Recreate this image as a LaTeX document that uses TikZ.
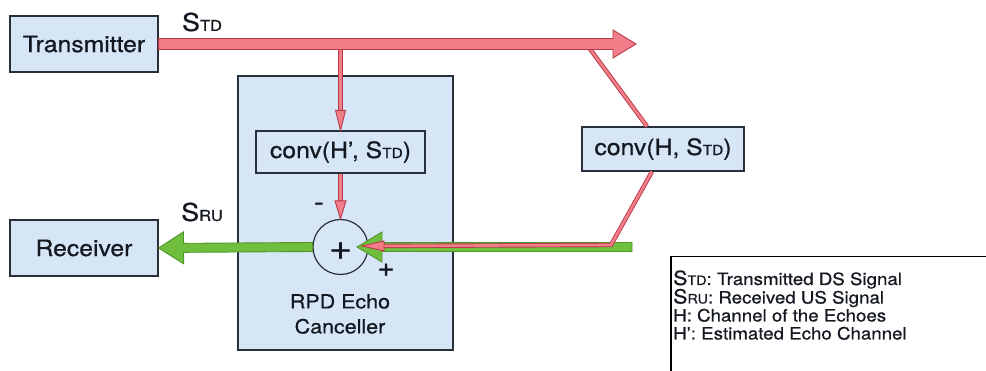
\documentclass[tikz,border=0pt]{standalone}
\usepackage{fontspec}
\setmainfont{TeX Gyre Heros}[FakeStretch=1.1, FakeBold=0.7]
\usetikzlibrary{calc}

\definecolor{boxfill}{RGB}{214,230,246}
\definecolor{boxline}{RGB}{40,48,60}
\definecolor{sigred}{RGB}{242,126,138}
\definecolor{sigredline}{RGB}{184,58,72}
\definecolor{siggreen}{RGB}{112,190,62}
\definecolor{siggreenline}{RGB}{80,150,42}
\definecolor{ink}{RGB}{20,24,32}

% S with a small-capital subscript: size of S, size of subscript, subscript
\newcommand\sigsym[3]{{\fontsize{#1}{#1}\selectfont S}{\fontsize{#2}{#2}\selectfont #3}}

% block arrow: style, start, tip, half shaft width, half head width, head length
\newcommand\fatarrow[6]{%
  \coordinate (fa-base) at ($(#3)!#6!(#2)$);
  \filldraw[#1] ($(#2)!#4!90:(#3)$) -- ($(fa-base)!#4!90:(#3)$)
    -- ($(fa-base)!#5!90:(#3)$) -- (#3) -- ($(fa-base)!#5!-90:(#3)$)
    -- ($(fa-base)!#4!-90:(#3)$) -- ($(#2)!#4!-90:(#3)$) -- cycle;
}
% triangular head only: style, point behind, tip, half width, length
\newcommand\headtip[5]{%
  \coordinate (ht-base) at ($(#3)!#5!(#2)$);
  \filldraw[#1] ($(ht-base)!#4!90:(#3)$) -- (#3) -- ($(ht-base)!#4!-90:(#3)$) -- cycle;
}

\tikzset{
  every node/.style={text=ink},
  blk/.style={draw=boxline, line width=1.2pt, fill=boxfill, inner sep=0pt,
    font=\fontsize{22.5}{22.5}\selectfont},
  panel/.style={draw=boxline, line width=1.2pt, fill=boxfill, inner sep=0pt},
  redfat/.style={draw=sigredline, fill=sigred, line width=0.9pt, line join=miter},
  greenfat/.style={draw=siggreenline, fill=siggreen, line width=0.9pt, line join=miter},
  redthin/.style={draw=sigredline, double=sigred, double distance=2.6pt, line width=0.9pt, line join=miter},
  redhead/.style={draw=sigredline, fill=sigred, line width=0.9pt, line join=miter},
  siglabel/.style={inner sep=0pt},
  signmark/.style={inner sep=0pt, font=\fontsize{27}{27}\selectfont},
  legendtext/.style={inner sep=0pt, anchor=base west, font=\fontsize{17}{17}\selectfont},
}

\begin{document}
\begin{tikzpicture}[x=1pt, y=-1pt]
\useasboundingbox (0,0) rectangle (986,371);
\clip (0,0) rectangle (986,371);

% echo canceller panel
\node[panel, minimum width=215pt, minimum height=274pt] (rpd) at (345.5,213) {};
\node[align=center, inner sep=0pt, font=\fontsize{19.5}{25}\selectfont] (rpdlbl) at (340,314) {RPD Echo\\Canceller};

% blocks
\node[blk, minimum width=148pt, minimum height=56pt] (tx) at (84,44) {Transmitter};
\node[blk, minimum width=148pt, minimum height=56pt] (rx) at (84,248) {Receiver};
\node[blk, minimum width=169pt, minimum height=42pt] (convhp) at (340.5,152) {conv(H’, \sigsym{22.5}{14}{TD})};
\node[blk, minimum width=162pt, minimum height=44pt] (convh) at (663,149) {conv(H, \sigsym{22.5}{14}{TD})};
\node[circle, draw=boxline, line width=1.2pt, fill=boxfill, minimum size=55pt, inner sep=0pt] (sum) at (340.5,247) {};
\node[inner sep=0pt, font=\fontsize{36}{36}\selectfont] (sumplus) at (340.5,251) {+};

% helper points
\coordinate (tapA) at (convhp.north |- tx.east);
\coordinate (topend) at (636,44);
\coordinate (tapB) at (590,49);
\coordinate (echoIn) at ($(convh.north)+(-16,0)$);
\coordinate (echoOut) at ($(convh.south)+(-11,0)$);
\coordinate (bend) at (611,245);
\coordinate (redtip) at (362,246);
\coordinate (gstart) at (632,247);
\coordinate (gtip) at (357,247);

% upstream path (green)
\fatarrow{greenfat}{gstart}{gtip}{4.5pt}{15pt}{25pt}
\fatarrow{greenfat}{sum.west}{rx.east}{4.5pt}{16pt}{25pt}

% tap to the estimated echo
\draw[redthin] (tapA) -- ($(convhp.north)!20pt!(tapA)$);
\headtip{redhead}{tapA}{convhp.north}{5pt}{20pt}
\draw[redthin] (convhp.south) -- ($(sum.north)!18pt!(convhp.south)$);
\headtip{redhead}{convhp.south}{sum.north}{5.5pt}{18pt}

% echo path
\draw[redthin] (tapB) -- (echoIn);
\draw[redthin] (echoOut) -- (bend) -- ($(redtip)!22pt!(bend)$);
\headtip{redhead}{bend}{redtip}{5pt}{22pt}

% downstream path (red)
\fatarrow{redfat}{tx.east}{topend}{5.5pt}{14pt}{23pt}

% signal labels and signs
\node[siglabel] (stdlbl) at (202,22) {\sigsym{24.5}{15}{TD}};
\node[siglabel] (srulbl) at (202,212) {\sigsym{24.5}{15}{RU}};
\node[signmark] (minus) at (319,207) {-};
\node[signmark] (plus) at (386,270) {+};

% legend
\node[draw=black, line width=1.5pt, fill=white, anchor=north west, minimum width=340pt, minimum height=130pt, inner sep=0pt] (legend) at (670,256) {};
\node[legendtext] (lg1) at (673,285) {\sigsym{19.5}{13}{TD}: Transmitted DS Signal};
\node[legendtext] (lg2) at (673,303.5) {\sigsym{19.5}{13}{RU}: Received US Signal};
\node[legendtext] (lg3) at (673,321.5) {H: Channel of the Echoes};
\node[legendtext] (lg4) at (673,339.5) {H’: Estimated Echo Channel};
\end{tikzpicture}
\end{document}
